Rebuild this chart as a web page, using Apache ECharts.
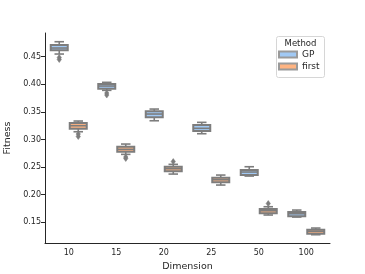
<!DOCTYPE html>
<html><head><meta charset="utf-8">
<script src="https://cdn.jsdelivr.net/npm/echarts@6/dist/echarts.min.js"></script>
<style>html,body{margin:0;padding:0;background:#fff}#c{width:365px;height:274px}</style>
</head><body><div id="c"></div>
<script>
const categories = ['10', '15', '20', '25', '50', '100'];
const methods = ['GP', 'first'];
// each box: [min, q1, median, q3, max]
const gpBoxes = [
  [0.4549, 0.4616, 0.4658, 0.4712, 0.4772],
  [0.3891, 0.3920, 0.3969, 0.4005, 0.4036],
  [0.3340, 0.3402, 0.3462, 0.3511, 0.3552],
  [0.3105, 0.3154, 0.3203, 0.3262, 0.3311],
  [0.2338, 0.2356, 0.2411, 0.2447, 0.2507],
  [0.1595, 0.1608, 0.1655, 0.1686, 0.1722]
];
const firstBoxes = [
  [0.3141, 0.3195, 0.3250, 0.3299, 0.3335],
  [0.2731, 0.2779, 0.2822, 0.2869, 0.2918],
  [0.2374, 0.2423, 0.2471, 0.2507, 0.2550],
  [0.2175, 0.2224, 0.2271, 0.2308, 0.2356],
  [0.1632, 0.1662, 0.1709, 0.1740, 0.1782],
  [0.1275, 0.1293, 0.1336, 0.1365, 0.1396]
];
// outliers: [category index, value]
const gpOutliers = [[0, 0.4486], [0, 0.4449], [1, 0.3842], [1, 0.3806]];
const firstOutliers = [[0, 0.3099], [0, 0.3054], [1, 0.2683], [1, 0.2656], [2, 0.2601], [4, 0.1840]];
const yTicks = [0.15, 0.20, 0.25, 0.30, 0.35, 0.40, 0.45];
const yMin = 0.1125, yMax = 0.493;

const GREY = '#7d7d7d';
const INK = '#262626';
const COLORS = ['#a1c9f4', '#ffb482'];
const FONT = 'DejaVu Sans';

function boxRender(offsetFrac, fill) {
  return function (params, api) {
    const i = api.value(0);
    const band = api.size([1, 0])[0];
    const w = band * 0.4;
    const cx = api.coord([i, api.value(3)])[0] + offsetFrac * band;
    const y = k => api.coord([i, api.value(k)])[1];
    const pMin = y(1), pQ1 = y(2), pMed = y(3), pQ3 = y(4), pMax = y(5);
    const cap = w / 4;
    const st = { stroke: GREY, lineWidth: 1.6 };
    return {
      type: 'group', children: [
        { type: 'line', shape: { x1: cx, y1: pQ1, x2: cx, y2: pMin }, style: st },
        { type: 'line', shape: { x1: cx, y1: pQ3, x2: cx, y2: pMax }, style: st },
        { type: 'line', shape: { x1: cx - cap, y1: pMin, x2: cx + cap, y2: pMin }, style: st },
        { type: 'line', shape: { x1: cx - cap, y1: pMax, x2: cx + cap, y2: pMax }, style: st },
        { type: 'rect', shape: { x: cx - w / 2 + 1, y: pQ3, width: w - 2, height: pQ1 - pQ3 }, style: { fill: fill, stroke: GREY, lineWidth: 2 } },
        { type: 'line', shape: { x1: cx - w / 2 + 1, y1: pMed, x2: cx + w / 2 - 1, y2: pMed }, style: st }
      ]
    };
  };
}
function outRender(offsetFrac) {
  return function (params, api) {
    const band = api.size([1, 0])[0];
    const p = api.coord([api.value(0), api.value(1)]);
    const cx = p[0] + offsetFrac * band, cy = p[1];
    return {
      type: 'polygon',
      shape: { points: [[cx, cy - 3], [cx + 2.2, cy], [cx, cy + 3], [cx - 2.2, cy]] },
      style: { fill: GREY, stroke: GREY, lineWidth: 0.5 }
    };
  };
}

const boxSets = [gpBoxes, firstBoxes];
const outSets = [gpOutliers, firstOutliers];
const offsets = [-0.2, 0.2];
const series = [];
methods.forEach((m, k) => {
  series.push({
    name: m, type: 'custom',
    renderItem: boxRender(offsets[k], COLORS[k]),
    itemStyle: { color: COLORS[k], borderColor: '#9a9a9a', borderWidth: 0.6 },
    encode: { x: 0, y: [1, 2, 3, 4, 5] },
    data: boxSets[k].map((b, i) => [i].concat(b)),
    z: 3
  });
  series.push({
    name: m, type: 'custom',
    renderItem: outRender(offsets[k]),
    itemStyle: { color: COLORS[k] },
    encode: { x: 0, y: 1 },
    data: outSets[k],
    z: 2
  });
});

const chart = echarts.init(document.getElementById('c'), null, { renderer: 'canvas' });
chart.setOption({
  animation: false,
  textStyle: { fontFamily: FONT },
  grid: { left: 45, right: 35, top: 33, bottom: 31, containLabel: false, outerBoundsMode: 'none' },
  xAxis: {
    type: 'category', data: categories, boundaryGap: true,
    name: 'Dimension', nameLocation: 'middle', nameGap: 18,
    nameTextStyle: { fontSize: 9.5, color: INK, fontFamily: FONT },
    axisLine: { lineStyle: { color: INK, width: 1 } },
    axisTick: { alignWithLabel: true, length: 4, lineStyle: { color: INK } },
    axisLabel: { fontSize: 8, color: INK, margin: 6, fontFamily: FONT },
    splitLine: { show: false }
  },
  yAxis: {
    type: 'value', min: yMin, max: yMax,
    name: 'Fitness', nameLocation: 'middle', nameGap: 27,
    nameTextStyle: { fontSize: 9.5, color: INK, fontFamily: FONT },
    axisLine: { show: true, lineStyle: { color: INK, width: 1 } },
    axisTick: { show: true, length: 4, customValues: yTicks, lineStyle: { color: INK } },
    axisLabel: { fontSize: 8, color: INK, margin: 4, customValues: yTicks, fontFamily: FONT, formatter: v => v.toFixed(2) },
    splitLine: { show: false }
  },
  legend: {
    data: methods, orient: 'vertical', left: 278, top: 50,
    itemWidth: 18, itemHeight: 6, itemGap: 3, icon: 'rect', padding: 0,
    textStyle: { fontSize: 9, color: INK, fontFamily: FONT }
  },
  graphic: [
    { type: 'rect', z: -1, shape: { x: 276.5, y: 36.5, width: 48, height: 41, r: 2 }, style: { fill: '#fff', stroke: '#d6d6d6', lineWidth: 1 } },
    { type: 'text', style: { x: 300.5, y: 44, text: 'Method', textAlign: 'center', textVerticalAlign: 'middle', fontSize: 8.5, fill: INK, fontFamily: FONT } }
  ],
  series: series
});
</script>
</body></html>
